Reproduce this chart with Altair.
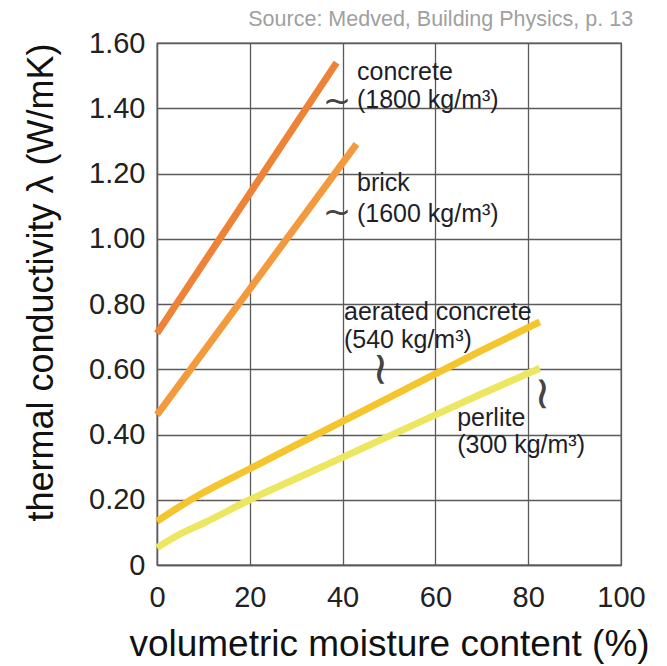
import altair as alt
import pandas as pd

# ---- data ----
materials = ["concrete", "brick", "aerated concrete", "perlite"]
colors = ["#EE8236", "#F49A3E", "#F5C52E", "#EDE660"]

concrete_x = [0, 38.7]
concrete_y = [0.71, 1.54]
brick_x = [0, 43]
brick_y = [0.46, 1.29]
aerated_x = [0, 5, 10, 20, 30, 40, 50, 60, 70, 82.5]
aerated_y = [0.134, 0.18, 0.222, 0.295, 0.368, 0.44, 0.513, 0.586, 0.658, 0.745]
perlite_x = [0, 5, 10, 20, 30, 40, 50, 60, 70, 82.5]
perlite_y = [0.053, 0.095, 0.128, 0.20, 0.265, 0.33, 0.395, 0.46, 0.525, 0.603]

x_ticks = [0, 20, 40, 60, 80, 100]
y_ticks = [0, 0.2, 0.4, 0.6, 0.8, 1.0, 1.2, 1.4, 1.6]

label_lines = [
    "concrete", "(1800 kg/m³)",
    "brick", "(1600 kg/m³)",
    "aerated concrete", "(540 kg/m³)",
    "perlite", "(300 kg/m³)",
]
label_x = [43.1, 43.1, 43.1, 43.1, 40.3, 40.3, 64.7, 64.7]
label_y = [1.51, 1.425, 1.17, 1.075, 0.775, 0.69, 0.452, 0.368]

conn_glyph = ["~", "~", "~", "~"]
conn_angle = [0, 0, 90, 90]
conn_size = [34, 34, 46, 46]
conn_x = [38.8, 38.8, 48.1, 83.0]
conn_y = [1.42, 1.08, 0.60, 0.525]

source = "Source: Medved, Building Physics, p. 13"

# ---- tables ----
rows = []
for name, xs, ys in [("concrete", concrete_x, concrete_y),
                     ("brick", brick_x, brick_y),
                     ("aerated concrete", aerated_x, aerated_y),
                     ("perlite", perlite_x, perlite_y)]:
    for i, (a, b) in enumerate(zip(xs, ys)):
        rows.append({"material": name, "moisture": a, "lambda": b, "order": i})
df = pd.DataFrame(rows)

df_lab = pd.DataFrame({"x": label_x, "y": label_y, "text": label_lines})
df_conn = pd.DataFrame({"x": conn_x, "y": conn_y, "g": conn_glyph, "a": conn_angle, "s": conn_size})

FONT = "Liberation Sans"
GRID = "#5a5a5a"

xscale = alt.Scale(domain=[0, 100], nice=False, zero=True)
yscale = alt.Scale(domain=[0, 1.6], nice=False)

lines = alt.Chart(df).mark_line(strokeWidth=7, strokeCap="butt", interpolate="monotone").encode(
    x=alt.X("moisture:Q", scale=xscale,
            axis=alt.Axis(values=x_ticks, grid=True, gridColor=GRID, gridWidth=1.3, gridOpacity=1,
                          domainColor=GRID, domainWidth=1.3, ticks=False,
                          labelFont=FONT, labelFontSize=29, labelColor="#222", labelPadding=18,
                          labelFlush=False,
                          title="volumetric moisture content (%)", titleFont=FONT,
                          titleFontSize=37, titleFontWeight="normal", titleColor="#111",
                          titlePadding=14)),
    y=alt.Y("lambda:Q", scale=yscale,
            axis=alt.Axis(values=y_ticks, grid=True, gridColor=GRID, gridWidth=1.3, gridOpacity=1,
                          domainColor=GRID, domainWidth=1.3, ticks=False,
                          labelFont=FONT, labelFontSize=29, labelColor="#222", labelPadding=12,
                          labelFlush=False,
                          labelExpr="datum.value == 0 ? '0' : format(datum.value, '.2f')",
                          title="thermal conductivity λ (W/mK)", titleFont=FONT,
                          titleFontSize=36, titleFontWeight="normal", titleColor="#111",
                          titleX=-97, titleY=239)),
    color=alt.Color("material:N", scale=alt.Scale(domain=materials, range=colors), legend=None),
    order="order:Q",
)

labels = alt.Chart(df_lab).mark_text(align="left", baseline="middle", font=FONT,
                                     fontSize=25, color="#1e1e2a").encode(
    x="x:Q", y="y:Q", text="text:N")

conns = alt.Chart(df_conn).mark_text(align="center", baseline="middle", font="DejaVu Sans",
                                     color="#444").encode(
    x="x:Q", y="y:Q", text="g:N", angle=alt.Angle("a:Q", scale=None),
    size=alt.Size("s:Q", scale=None, legend=None))

chart = alt.layer(lines, labels, conns).properties(
    width=464, height=522,
    autosize=alt.AutoSizeParams(type="none"),
    padding={"left": 149, "top": 35, "right": 30, "bottom": 100},
    title=alt.TitleParams(text=source, anchor="end", fontSize=21.5, color="#a0a0a0",
                          fontWeight="normal", font=FONT, dx=-16, offset=-1),
    background="white",
).configure_view(stroke=GRID, strokeWidth=1.3)

chart.save("out.html", embed_options={"renderer": "svg", "actions": False})
